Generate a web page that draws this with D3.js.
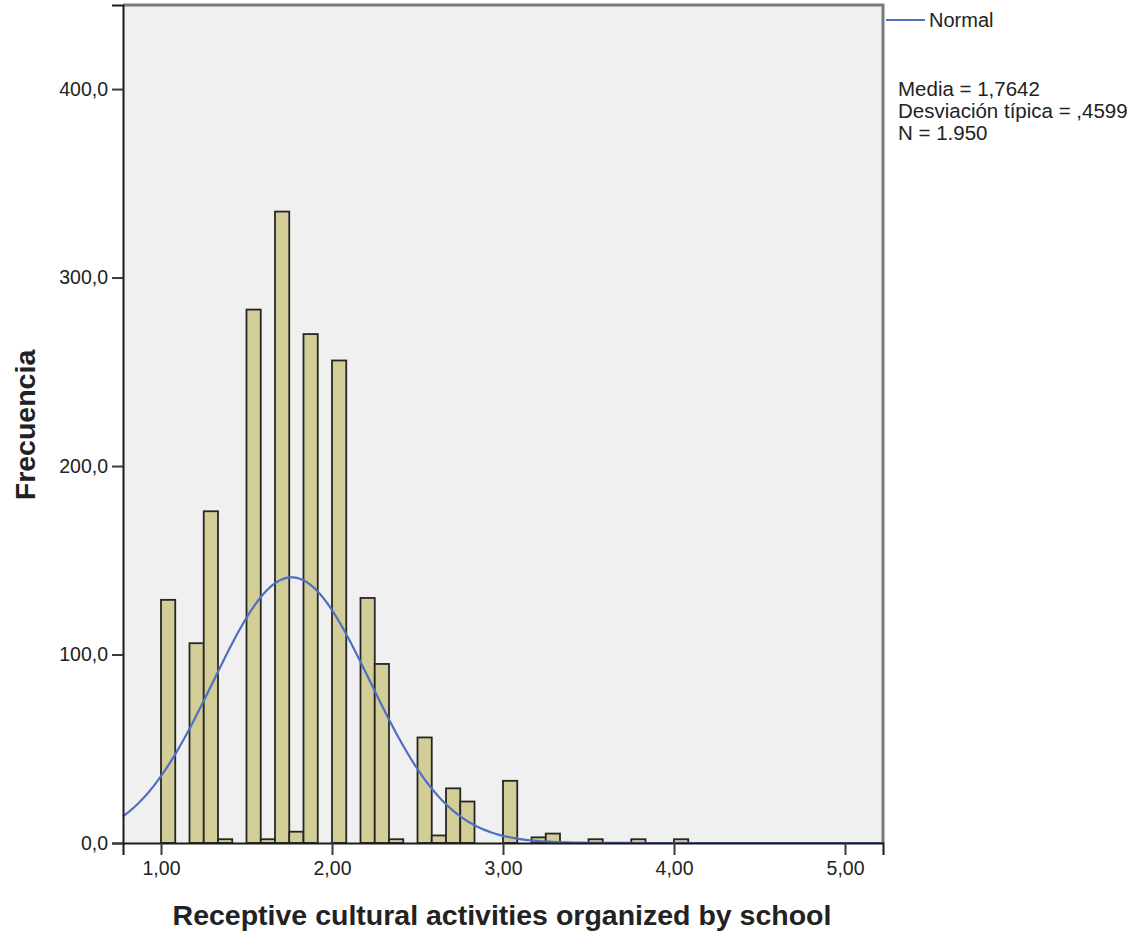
<!DOCTYPE html>
<head>
	<meta charset="utf-8">
	<script src="https://d3js.org/d3.v7.min.js"></script>
	<style>
		body { margin: 0; background: #fff; }
		text { font-family: "Liberation Sans", Arial, sans-serif; fill: #222; }
	</style>
</head>
<body>
	<svg id="chart" width="1133" height="934"></svg>
	<script>

	// histogram bins (lower edge) and counts
	var binStarts = [1.0000, 1.1667, 1.2500, 1.3333, 1.5000, 1.5833, 1.6667, 1.7500, 1.8333, 2.0000,
	                 2.1667, 2.2500, 2.3333, 2.5000, 2.5833, 2.6667, 2.7500, 3.0000, 3.1667, 3.2500,
	                 3.5000, 3.7500, 4.0000];
	var counts = [129, 106, 176, 2, 283, 2, 335, 6, 270, 256,
	              130, 95, 2, 56, 4, 29, 22, 33, 3, 5,
	              2, 2, 2];
	var binWidth = 1 / 12;

	// summary stats shown in the legend
	var mean = 1.7642, sd = 0.4599, n = 1950;
	var statLines = ["Media = 1,7642", "Desviación típica = ,4599", "N = 1.950"];

	var xTicks = [1, 2, 3, 4, 5];
	var yTicks = [0, 100, 200, 300, 400];

	var svg = d3.select("#chart");

	var x = d3.scaleLinear().domain([0.7778, 5.2222]).range([123, 883]);
	var y = d3.scaleLinear().domain([0, 444.6]).range([843, 5]);

	// plot background
	svg.append("rect")
		.attr("x", x.range()[0]).attr("y", y.range()[1])
		.attr("width", x.range()[1] - x.range()[0])
		.attr("height", y.range()[0] - y.range()[1])
		.attr("fill", "#f0f0f0");

	// frame (top/right in gray)
	svg.append("path")
		.attr("d", "M" + x.range()[0] + "," + y.range()[1] + "H" + x.range()[1] + "V" + y.range()[0])
		.attr("fill", "none")
		.attr("stroke", "#7a7a7a")
		.attr("stroke-width", 3);

	// bars
	svg.append("g")
		.selectAll("rect")
		.data(binStarts)
		.enter()
		.append("rect")
		.attr("x", function(d) { return x(d); })
		.attr("width", function(d) { return x(d + binWidth) - x(d); })
		.attr("y", function(d, i) { return y(counts[i]); })
		.attr("height", function(d, i) { return y(0) - y(counts[i]); })
		.attr("fill", "#d3ce97")
		.attr("stroke", "#262626")
		.attr("stroke-width", 1.8);

	// normal curve from the stated mean / sd / N
	var curveX = d3.range(0, 201).map(function(i) {
		var d = x.domain();
		return d[0] + (d[1] - d[0]) * i / 200;
	});
	var line = d3.line()
		.x(function(d) { return x(d); })
		.y(function(d) {
			var z = (d - mean) / sd;
			return y(n * binWidth * Math.exp(-0.5 * z * z) / (sd * Math.sqrt(2 * Math.PI)));
		});
	svg.append("path")
		.datum(curveX)
		.attr("d", line)
		.attr("fill", "none")
		.attr("stroke", "#4f6ec4")
		.attr("stroke-width", 2.2);

	// axes
	var xAxis = d3.axisBottom(x)
		.tickValues(xTicks)
		.tickSize(12)
		.tickPadding(6)
		.tickFormat(function(d) { return d3.format(".2f")(d).replace(".", ","); });
	var gx = svg.append("g")
		.attr("transform", "translate(0," + y(0) + ")")
		.call(xAxis);
	gx.select(".domain").attr("stroke", "#1a1a1a").attr("stroke-width", 2);

	var yAxis = d3.axisLeft(y)
		.tickValues(yTicks)
		.tickSize(11)
		.tickPadding(4)
		.tickFormat(function(d) { return d3.format(".1f")(d).replace(".", ","); });
	var gy = svg.append("g")
		.attr("transform", "translate(" + x.range()[0] + ",0)")
		.call(yAxis);
	gy.select(".domain").attr("stroke", "#1a1a1a").attr("stroke-width", 2);

	svg.selectAll(".tick line").attr("stroke", "#3a3a3a").attr("stroke-width", 2);
	svg.selectAll(".tick text")
		.style("font-family", "'Liberation Sans', Arial, sans-serif")
		.style("font-size", "19.5px")
		.attr("fill", "#222");

	// axis titles
	svg.append("text")
		.attr("x", 502)
		.attr("y", 925)
		.attr("text-anchor", "middle")
		.style("font-size", "28.5px")
		.style("font-weight", "bold")
		.text("Receptive cultural activities organized by school");

	svg.append("text")
		.attr("transform", "translate(35,425) rotate(-90)")
		.attr("text-anchor", "middle")
		.style("font-size", "28.5px")
		.style("font-weight", "bold")
		.text("Frecuencia");

	// legend
	svg.append("line")
		.attr("x1", 886).attr("x2", 925)
		.attr("y1", 20).attr("y2", 20)
		.attr("stroke", "#4f6ec4")
		.attr("stroke-width", 2);
	svg.append("text")
		.attr("x", 929).attr("y", 27)
		.style("font-size", "20px")
		.text("Normal");

	svg.append("g")
		.selectAll("text")
		.data(statLines)
		.enter()
		.append("text")
		.attr("x", 898)
		.attr("y", function(d, i) { return 96 + i * 22; })
		.style("font-size", "20.5px")
		.text(function(d) { return d; });

	</script>
</body>
</html>
